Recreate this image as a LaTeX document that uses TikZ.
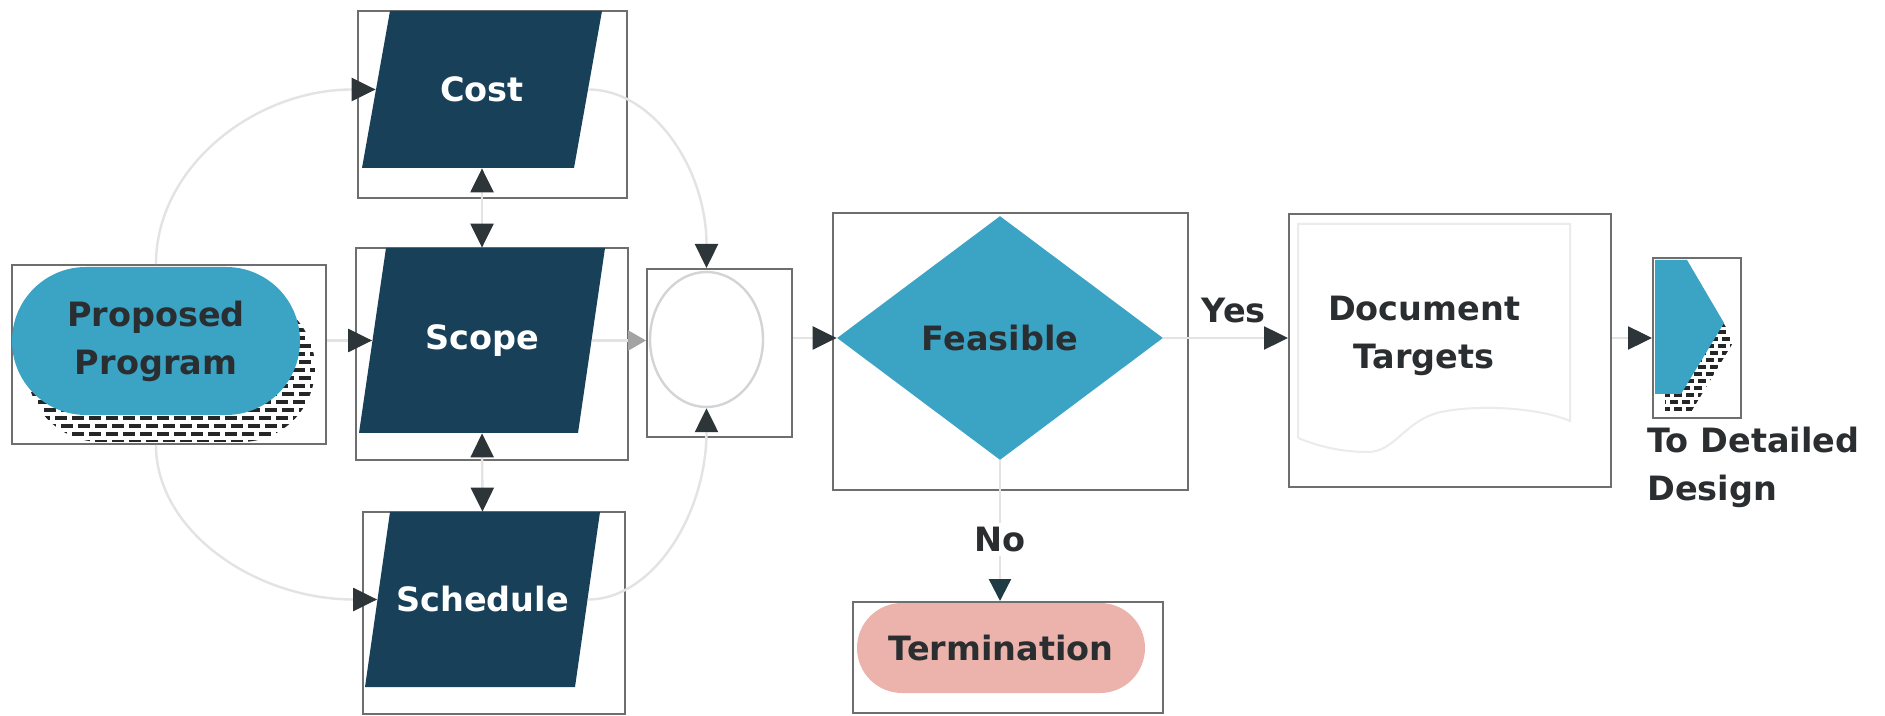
\documentclass[tikz,border=0pt]{standalone}
\usepackage{fontspec}
\setmainfont{DejaVu Sans}
\usetikzlibrary{arrows.meta,shapes.geometric,calc}

\definecolor{navy}{HTML}{184058}
\definecolor{boxteal}{HTML}{3BA3C4}
\definecolor{rose}{HTML}{EBB3AB}
\definecolor{ink}{HTML}{2A2E30}
\definecolor{tipdark}{HTML}{2D3538}
\definecolor{tipteal}{HTML}{1F3C45}
\definecolor{framegray}{HTML}{6E6E6E}
\definecolor{faint}{HTML}{E3E3E3}
\definecolor{tipgray}{HTML}{A3A3A3}
\definecolor{ghost}{HTML}{EBEBEB}

\newcommand\mainlab{\fontsize{16.75pt}{24pt}\selectfont\bfseries}

\tikzset{
  Tdark/.tip={Triangle[length=12pt,width=11.5pt,color=tipdark]},
  Tteal/.tip={Triangle[length=11pt,width=11pt,color=tipteal]},
  Tgray/.tip={Triangle[length=9pt,width=10pt,color=tipgray]},
  frame/.style={rectangle,draw=framegray,line width=1pt,fill=white,inner sep=0pt},
  % parallelogram filled inside a rectangular node; #1 is the horizontal slant
  para/.style={rectangle,text=white,inner sep=0pt,font=\mainlab,
    path picture={
      \fill[navy] (path picture bounding box.south west)
        -- ($(path picture bounding box.north west)+(#1,0)$)
        -- (path picture bounding box.north east)
        -- ($(path picture bounding box.south east)+(-#1,0)$) -- cycle;}},
  pill/.style={rectangle,text=ink,font=\mainlab,align=center,inner sep=0pt},
  conn/.style={draw=faint,line width=1.2pt},
  lbl/.style={font=\mainlab,text=ink,inner sep=0pt},
  stripe/.style={black!85,line width=2.3pt,dash pattern=on 6pt off 2.5pt},
}

\begin{document}
\begin{tikzpicture}[x=0.5pt,y=-0.5pt]
\useasboundingbox[fill=white] (0,0) rectangle (1885,716);

% placeholder frames
\node[frame,minimum width=157pt,minimum height=89.5pt] (ppframe) at (169,354.5) {};
\node[frame,minimum width=134.5pt,minimum height=93.5pt] (costframe) at (492.5,104.5) {};
\node[frame,minimum width=136pt,minimum height=106pt] (scopeframe) at (492,354) {};
\node[frame,minimum width=131pt,minimum height=101pt] (schedframe) at (494,613) {};
\node[frame,minimum width=72.5pt,minimum height=84pt] (mergeframe) at (719.5,353) {};
\node[frame,minimum width=177.5pt,minimum height=138.5pt] (feasframe) at (1010.5,351.5) {};
\node[frame,minimum width=161pt,minimum height=136.5pt] (docframe) at (1450,350.5) {};
\node[frame,minimum width=155pt,minimum height=55.5pt] (termframe) at (1008,657.5) {};
\node[frame,minimum width=44pt,minimum height=80pt] (offframe) at (1697,338) {};

% striped shadow behind the start terminal
\begin{scope}
  \clip[rounded corners=37pt] (27,294) rectangle (315,442);
  \foreach \yy [count=\i] in {290,298,...,446} {
    \pgfmathsetmacro\ph{mod(\i,2)*3}
    \draw[stripe,dash phase=\ph pt] (10,\yy) -- (330,\yy);
  }
\end{scope}

% striped shadow behind the off-page connector
\begin{scope}
  \clip (1655,260) rectangle (1739,416);
  \clip (1665,278) -- (1697,278) -- (1734,341) -- (1691,412) -- (1665,412) -- cycle;
  \foreach \yy [count=\i] in {276,283,...,416} {
    \pgfmathsetmacro\ph{mod(\i,2)*2}
    \draw[stripe,line width=2pt,dash pattern=on 4pt off 2pt,dash phase=\ph pt] (1650,\yy) -- (1745,\yy);
  }
\end{scope}

% shapes
\node[pill,rounded corners=37pt,fill=boxteal,minimum width=144pt,minimum height=74pt]
  (pp) at (156,341) {Proposed\\Program};
\node[para=28,minimum width=120pt,minimum height=78.5pt] (cost) at (482,89.5) {Cost};
\node[para=27,minimum width=123pt,minimum height=92.5pt] (scope) at (482,340.5) {Scope};
\node[para=25,minimum width=117.5pt,minimum height=87.5pt] (sched) at (482.5,599.5) {Schedule};
\node[ellipse,draw=faint!85!gray,line width=1.2pt,minimum width=56.5pt,
  minimum height=67.5pt,inner sep=0pt] (merge) at (706.5,339.5) {};
\node[diamond,aspect=1.336,fill=boxteal,minimum width=163pt,minimum height=122pt,
  inner sep=0pt,font=\mainlab,text=ink] (feas) at (1000,338) {Feasible};
\node[pill,rounded corners=22.5pt,fill=rose,minimum width=144pt,minimum height=45pt]
  (term) at (1001,648) {Termination};

% faint document outline and its caption
\draw[ghost,line width=1pt] (1298,438) -- (1298,224) -- (1570,224) -- (1570,421)
  .. controls (1540,408) and (1480,404) .. (1441,412)
  .. controls (1405,420) and (1395,452) .. (1368,452)
  .. controls (1340,452) and (1318,446) .. (1298,438);
\node[pill] (doc) at (1424,336) {Document\\Targets};

% off-page connector
\fill[boxteal] (1655,260) -- (1687,260) -- (1724,323) -- (1681,394) -- (1655,394) -- cycle;
\node[font=\mainlab,text=ink,align=left,anchor=north west,inner sep=0pt]
  (dest) at (1647,427) {To Detailed\\Design};

% connector end points on the slanted sides and frame edges
\coordinate (costL) at ($(cost.west)+(14,0)$);
\coordinate (costR) at ($(cost.east)+(-14,0)$);
\coordinate (scopeL) at ($(scope.west)+(13.5,0)$);
\coordinate (scopeR) at ($(scope.east)+(-13.5,0)$);
\coordinate (schedL) at ($(sched.west)+(12.5,0)$);
\coordinate (schedR) at ($(sched.east)+(-12.5,0)$);
\coordinate (ppN) at (pp.north |- ppframe.north);
\coordinate (ppS) at (pp.south |- ppframe.south);
\coordinate (mergeN) at (merge.north |- mergeframe.north);

% connectors
\draw[conn,-Tdark] (ppN) .. controls ($(ppN)+(0,-97)$) and ($(costL)+(-121,0)$) .. (costL);
\draw[conn,-Tdark] (ppS) .. controls ($(ppS)+(0,86)$) and ($(schedL)+(-122,0)$) .. (schedL);
\draw[conn,-Tdark] (ppframe.east |- scopeL) -- (scopeL);
\draw[conn,Tdark-Tdark] (cost.south) -- (scope.north);
\draw[conn,Tdark-Tdark] (scope.south) -- (sched.north);
\draw[conn,-Tgray] (scopeR) -- (mergeframe.west |- scopeR);
\draw[conn,-Tdark] (costR) .. controls ($(costR)+(65,0)$) and ($(mergeN)+(0,-99)$) .. (mergeN);
\draw[conn,-Tdark] (schedR) .. controls ($(schedR)+(65,0)$) and ($(merge.south)+(0,106)$) .. (merge.south);
\draw[conn,-Tdark] (mergeframe.east |- feas.west) -- (feas.west);
\draw[conn,-Tdark] (feas.east) -- node[lbl,pos=0.565,above=7pt] {Yes} (docframe.west |- feas.east);
\draw[conn,-Tteal] (feas.south) -- node[lbl,pos=0.563,fill=white,inner sep=2pt] {No} (feas.south |- termframe.north);
\draw[conn,-Tdark] (docframe.east |- offframe.west) -- (offframe.west);

\end{tikzpicture}
\end{document}
